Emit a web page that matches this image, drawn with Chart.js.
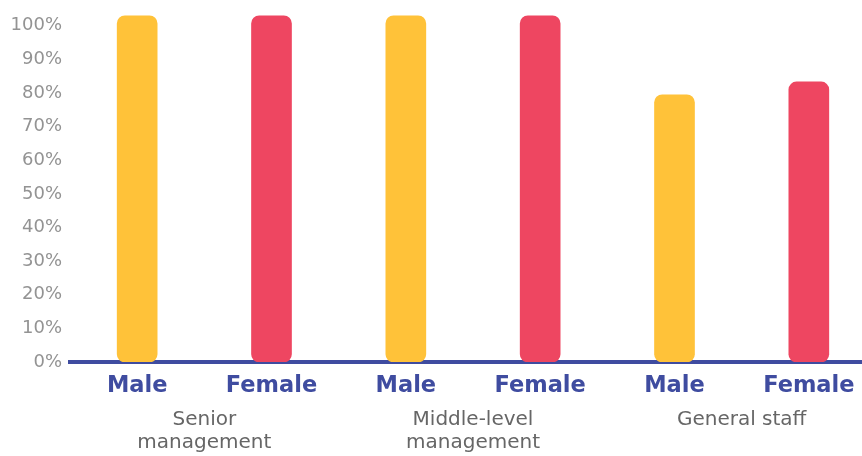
<!DOCTYPE html>
<html>
<head>
<meta charset="utf-8">
<script src="https://cdn.jsdelivr.net/npm/chart.js@4.4.1/dist/chart.umd.min.js"></script>
<style>
  html, body { margin: 0; padding: 0; background: #fff; overflow: hidden; }
  #wrap { width: 876px; height: 456px; }
</style>
</head>
<body>
<div id="wrap"><canvas id="genderChart" width="876" height="456"></canvas></div>
<script>
// Data
var genderLabels = ['Male', 'Female', 'Male', 'Female', 'Male', 'Female'];
var groupLabels = [['Senior', 'management'], ['Middle-level', 'management'], ['General staff']];
var shareValues = [103, 103, 103, 103, 79.5, 83.3];
var barColors = ['#FFC239', '#EE4661', '#FFC239', '#EE4661', '#FFC239', '#EE4661'];
var yTicks = [0, 10, 20, 30, 40, 50, 60, 70, 80, 90, 100];

var blue = '#3F4CA0';

var ctx = document.getElementById('genderChart').getContext('2d');
var genderChart = new Chart(ctx, {
    type: 'bar',
    data: {
        labels: genderLabels,
        datasets: [{
            data: shareValues,
            backgroundColor: barColors,
            borderRadius: 8,
            borderSkipped: false,
            barThickness: 40
        }]
    },
    options: {
        responsive: false,
        animation: false,
        layout: { padding: { top: 9, right: 0, left: 0, bottom: 0 } },
        plugins: {
            legend: { display: false },
            tooltip: { enabled: false }
        },
        scales: {
            x: {
                grid: { display: false },
                border: { display: true, color: blue, width: 4 },
                ticks: {
                    color: blue,
                    padding: 3,
                    font: { family: 'DejaVu Sans', size: 22.5, weight: 'bold' }
                },
                afterFit: function(scale) { scale.height = 38; }
            },
            x2: {
                type: 'category',
                labels: groupLabels,
                position: 'bottom',
                grid: { display: false },
                border: { display: false },
                ticks: {
                    color: '#666666',
                    padding: 0,
                    font: { family: 'DejaVu Sans', size: 20, lineHeight: 1.15 }
                },
                afterFit: function(scale) { scale.height = 56; }
            },
            y: {
                min: 0,
                max: 105,
                grid: { display: false, drawTicks: false },
                border: { display: false },
                afterBuildTicks: function(scale) {
                    scale.ticks = yTicks.map(function(v) { return { value: v }; });
                },
                ticks: {
                    padding: 8,
                    autoSkip: false,
                    color: '#939393',
                    font: { family: 'DejaVu Sans', size: 18 },
                    callback: function(value) {
                        return value + '%';
                    }
                },
                afterFit: function(scale) {
                    scale.width = 70;
                    scale.paddingTop = 0;
                    scale.paddingBottom = 0;
                }
            }
        }
    }
});
</script>
</body>
</html>
